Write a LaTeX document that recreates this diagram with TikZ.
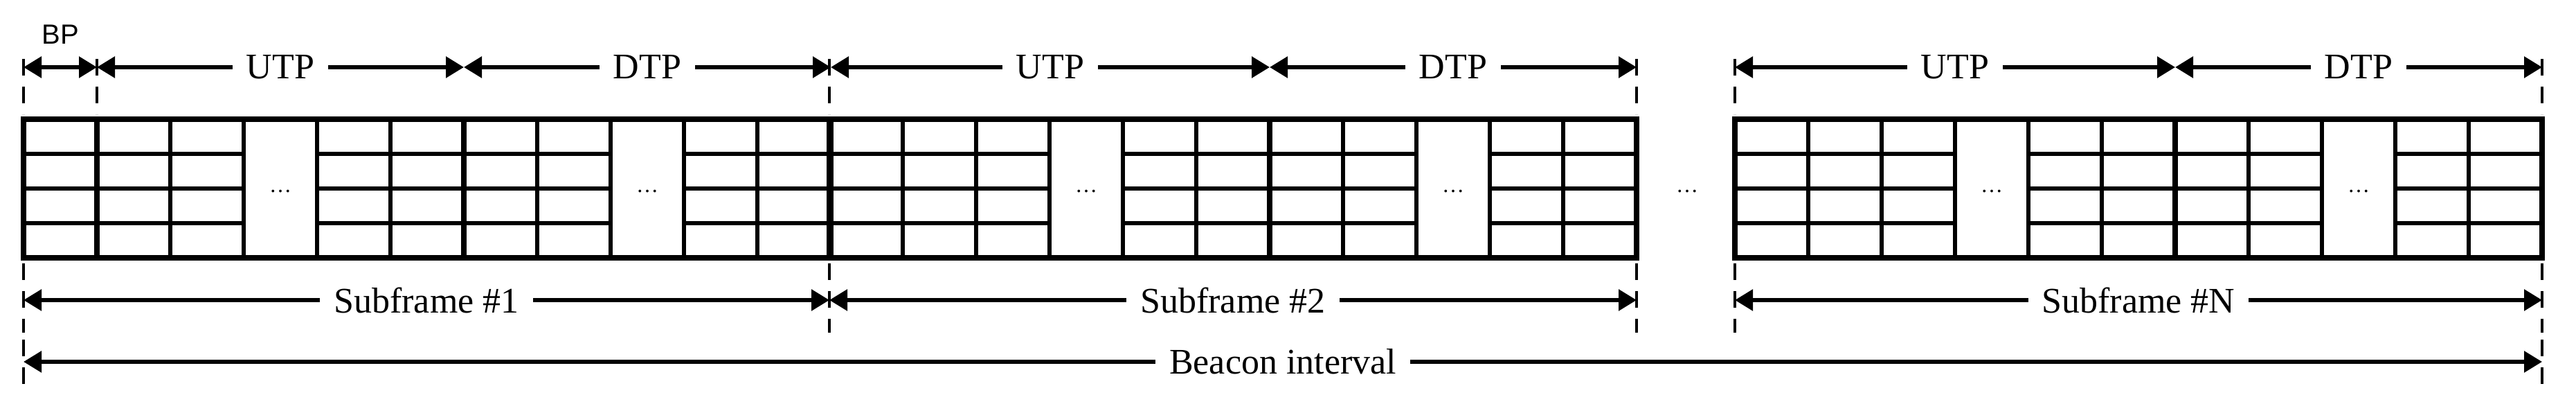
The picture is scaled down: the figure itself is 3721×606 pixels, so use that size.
\documentclass[tikz,border=0pt]{standalone}
\usepackage{fontspec}
\setmainfont{Liberation Serif}
\newfontfamily\bpfont{Liberation Sans}
\usetikzlibrary{arrows.meta}
\begin{document}
\begin{tikzpicture}[x=0.25pt,y=-0.25pt,
  dim/.style={line width=1.4pt,{Triangle[length=6.5pt,width=7.5pt]}-{Triangle[length=6.5pt,width=7.5pt]}},
  lbl/.style={fill=white,inner xsep=5pt,inner ysep=1pt,font=\fontsize{13}{15}\selectfont},
  ext/.style={line width=1.1pt,dash pattern=on 6pt off 4pt},
  thin/.style={line width=1.3pt},
  thick/.style={line width=2pt},
  frame/.style={line width=2.2pt},
  dots/.style={font=\fontsize{8}{9}\selectfont,inner sep=0pt}]
\useasboundingbox (0,0) rectangle (3721,606);
\def\w{106}
% subframe grids
\foreach \xs in {34,1198,2506}{
  \foreach \r in {222,272,322}{
    \foreach \c in {0,1,2,4,5,6,7,9,10}{
      \draw[thin] ({\xs+\c*\w},\r) -- ({\xs+(\c+1)*\w},\r);
    }
  }
  \foreach \c in {1,2,3,4,5,7,8,9,10}{
    \draw[thin] ({\xs+\c*\w},172) -- ({\xs+\c*\w},372);
  }
  \draw[thick] ({\xs+6*\w},172) -- ({\xs+6*\w},372);
  \draw[frame] (\xs,172) rectangle ({\xs+11*\w},372);
  \node[dots] at ({\xs+3.5*\w},276) {\dots};
  \node[dots] at ({\xs+8.5*\w},276) {\dots};
}
\draw[thick] ({34+\w},172) -- ({34+\w},372);
\node[dots] (mid) at (2437,276) {\dots};
% boundary coordinates
\coordinate (a) at (34,97);
\coordinate (b) at ({34+\w},97);
\coordinate (c) at ({34+6*\w},97);
\coordinate (d) at (1200,97);
\coordinate (e) at ({1198+6*\w},97);
\coordinate (f) at (2364,97);
\coordinate (g) at (2506,97);
\coordinate (h) at ({2506+6*\w},97);
\coordinate (i) at (3672,97);
% top dimension arrows
\draw[dim] (a) -- (b);
\node[font=\bpfont\fontsize{10}{12}\selectfont] (bp) at ({34+0.5*\w},50) {BP};
\draw[dim] (b) -- node[lbl] (u1) {UTP} (c);
\draw[dim] (c) -- node[lbl] (d1) {DTP} (d);
\draw[dim] (d) -- node[lbl] (u2) {UTP} (e);
\draw[dim] (e) -- node[lbl] (d2) {DTP} (f);
\draw[dim] (g) -- node[lbl] (u3) {UTP} (h);
\draw[dim] (h) -- node[lbl] (d3) {DTP} (i);
% extension lines top
\foreach \p in {34,{34+\w},1198,2364,2506,3672}{
  \draw[ext] (\p,85) -- (\p,165);
}
% bottom
\coordinate (sa) at (34,433);
\coordinate (sb) at (1198,433);
\coordinate (sc) at (2364,433);
\coordinate (sd) at (2506,433);
\coordinate (se) at (3672,433);
\coordinate (ba) at (34,522);
\coordinate (bb) at (3672,522);
\draw[dim] (sa) -- node[lbl] (s1) {Subframe \#1} (sb);
\draw[dim] (sb) -- node[lbl] (s2) {Subframe \#2} (sc);
\draw[dim] (sd) -- node[lbl] (s3) {Subframe \#N} (se);
\draw[dim] (ba) -- node[lbl] (bi) {Beacon interval} (bb);
\foreach \p in {34,1198,2364,2506,3672}{
  \draw[ext] (\p,380) -- (\p,480);
}
\draw[ext] (34,490) -- (34,565);
\draw[ext] (3672,490) -- (3672,565);
\end{tikzpicture}
\end{document}
